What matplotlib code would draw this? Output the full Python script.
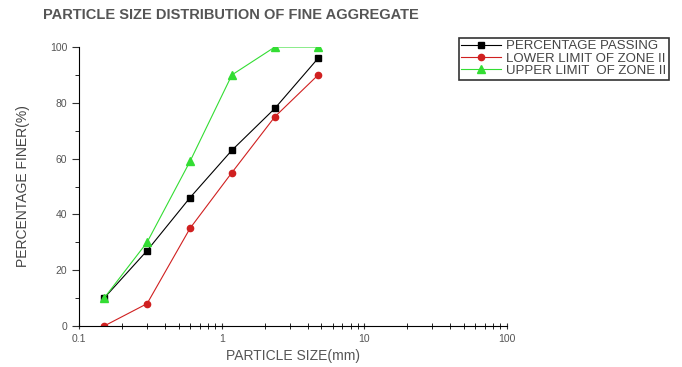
import matplotlib.pyplot as plt
from matplotlib.ticker import FixedLocator, MultipleLocator, NullFormatter

plt.rcParams['font.family'] = ['Liberation Sans', 'DejaVu Sans']

size = [0.15, 0.3, 0.6, 1.18, 2.36, 4.75]
passing = [10, 27, 46, 63, 78, 96]
lower = [0, 8, 35, 55, 75, 90]
upper = [10, 30, 59, 90, 100, 100]

fig = plt.figure(figsize=(6.82, 3.67), dpi=100)
ax = fig.add_axes([79/682, 1-326/367, (507-79)/682, (326-47)/367])

ax.plot(size, passing, '-s', color='black', lw=0.8, ms=4.5, label='PERCENTAGE PASSING')
ax.plot(size, lower, '-o', color='#d02020', lw=0.8, ms=4.5, label='LOWER LIMIT OF ZONE II')
ax.plot(size, upper, '-^', color='#33dd33', lw=0.8, ms=5.5, label='UPPER LIMIT  OF ZONE II')

ax.set_xscale('log')
ax.set_xlim(0.1, 100)
ax.set_ylim(0, 100)
ax.xaxis.set_major_locator(FixedLocator([0.1, 1, 10, 100]))
ax.set_xticklabels(['0.1', '1', '10', '100'])
ax.xaxis.set_minor_formatter(NullFormatter())
ax.yaxis.set_major_locator(MultipleLocator(20))
ax.yaxis.set_minor_locator(MultipleLocator(10))
for s in ['top', 'right']:
    ax.spines[s].set_visible(False)
ax.tick_params(axis='both', labelsize=7.5, colors='#333333', labelcolor='#555555')
ax.tick_params(axis='x', which='both', direction='inout', length=4)
ax.tick_params(axis='y', which='major', length=5)
ax.tick_params(axis='y', which='minor', length=3)

ax.set_xlabel('PARTICLE SIZE(mm)', fontsize=10, color='#555555', labelpad=4)
ax.set_ylabel('PERCENTAGE FINER(%)', fontsize=10, color='#444444', labelpad=14)

fig.text(43/682, 1-15/367, 'PARTICLE SIZE DISTRIBUTION OF FINE AGGREGATE', fontsize=10.5,
         color='#555555', fontweight='bold', va='center')

leg = fig.legend(loc='upper left', bbox_to_anchor=(452/682, 1-31/367), fontsize=9.5,
                 frameon=True, fancybox=False, edgecolor='black', borderpad=0.2,
                 labelspacing=0.0, handlelength=3, handletextpad=0.4)
leg.get_frame().set_linewidth(1.2)
for t in leg.get_texts():
    t.set_color('#444444')

fig.savefig('out.png', dpi=100)
